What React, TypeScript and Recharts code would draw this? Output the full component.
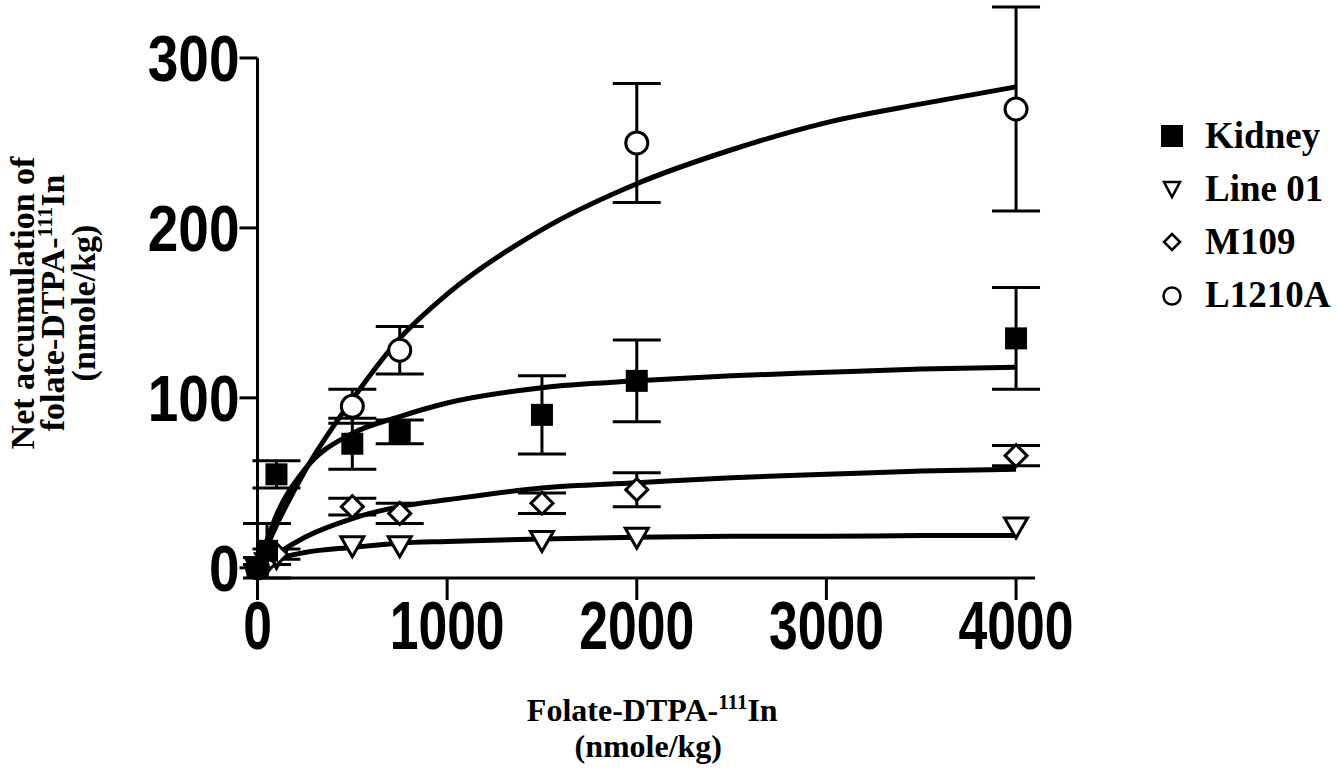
import {
  ComposedChart,
  Line,
  Scatter,
  XAxis,
  YAxis,
  ErrorBar,
  ReferenceLine,
} from 'recharts';

const SERIF = '"Liberation Serif", "Times New Roman", serif';
const SANS = '"Liberation Sans", Arial, sans-serif';

// axis ticks
const X_TICKS = [0, 1000, 2000, 3000, 4000];
const Y_TICKS = [0, 100, 200, 300];

// fitted saturation curves
const fitX = [0, 100, 250, 500, 750, 1000, 1500, 2000, 2500, 3000, 3500, 4000];
const kidneyFit = [0, 31, 58, 79, 89, 97, 106, 110, 113, 115, 117, 118];
const line01Fit = [0, 5, 9, 12, 14.5, 15.5, 17, 18, 18.5, 18.5, 19, 19];
const m109Fit = [0, 8, 18, 29, 36, 40, 47, 50, 53, 55, 57, 58];
const l1210aFit = [0, 25, 57, 99, 135, 161, 199, 226, 246, 262, 273, 283];

// measured points (mean +/- error)
const doseX = [0, 50, 100, 500, 750, 1500, 2000, 4000];
const kidneyMean = [0, 10, 55, 73, 80, 90, 110, 135];
const kidneyErr = [0, 16, 8, 15, 7, 23, 24, 30];
const line01Mean = [0, 3, 6, 13, 13, 16, 18, 24];
const m109Mean = [0, 4, 8, 36, 32, 38, 46, 66];
const m109Err = [0, 2, 3, 5, 6, 6, 10, 6];
const l1210aX = [0, 500, 750, 2000, 4000];
const l1210aMean = [0, 95, 128, 250, 270];
const l1210aErr = [0, 10, 14, 35, 60];

const toCurve = (ys: number[]) => fitX.map((x, i) => ({ x, y: ys[i] }));
const toPoints = (xs: number[], ys: number[], errs?: number[]) =>
  xs.map((x, i) => ({ x, y: ys[i], err: errs ? errs[i] : 0 }));

const kidneyPts = toPoints(doseX, kidneyMean, kidneyErr);
const line01Pts = toPoints(doseX, line01Mean);
const m109Pts = toPoints(doseX, m109Mean, m109Err);
const l1210aPts = toPoints(l1210aX, l1210aMean, l1210aErr);

const SquareDot = ({ cx, cy }: any) => (
  <rect x={cx - 11} y={cy - 11} width={22} height={22} fill="#000" />
);
const CircleDot = ({ cx, cy }: any) => (
  <circle cx={cx} cy={cy} r={11} fill="#fff" stroke="#000" strokeWidth={3} />
);
const DiamondDot = ({ cx, cy }: any) => (
  <polygon
    points={`${cx},${cy - 11} ${cx + 11},${cy} ${cx},${cy + 11} ${cx - 11},${cy}`}
    fill="#fff"
    stroke="#000"
    strokeWidth={3}
  />
);
const TriangleDot = ({ cx, cy }: any) => (
  <polygon
    points={`${cx - 11.5},${cy - 9} ${cx + 11.5},${cy - 9} ${cx},${cy + 11}`}
    fill="#fff"
    stroke="#000"
    strokeWidth={3}
  />
);

function YTick({ x, y, payload }: any) {
  return (
    <text
      transform={`translate(${x},${y}) scale(0.86,1)`}
      textAnchor="end"
      dy="0.36em"
      fontFamily={SANS}
      fontWeight="bold"
      fontSize={64}
      fill="#000"
    >
      {payload.value}
    </text>
  );
}

function XTick({ x, y, payload }: any) {
  return (
    <text
      transform={`translate(${x},${y}) scale(0.76,1)`}
      textAnchor="middle"
      dy="0.72em"
      fontFamily={SANS}
      fontWeight="bold"
      fontSize={68}
      fill="#000"
    >
      {payload.value}
    </text>
  );
}

function XTitle({ viewBox }: any) {
  const cx = viewBox.x + viewBox.width / 2 + 6;
  return (
    <text fontFamily={SERIF} fontWeight="bold" fontSize={32} fill="#000" textAnchor="middle">
      <tspan x={cx} y={721}>
        Folate-DTPA-
        <tspan fontSize={21} dy={-12}>111</tspan>
        <tspan dy={12}>In</tspan>
      </tspan>
      <tspan x={cx - 4} y={757}>(nmole/kg)</tspan>
    </text>
  );
}

function YTitle() {
  const cy = 303;
  return (
    <text
      fontFamily={SERIF}
      fontWeight="bold"
      fontSize={34}
      fill="#000"
      textAnchor="middle"
      transform="rotate(-90)"
    >
      <tspan x={-cy} y={34}>Net accumulation of</tspan>
      <tspan x={-cy} y={64}>
        folate-DTPA-
        <tspan fontSize={22} dy={-12}>111</tspan>
        <tspan dy={12}>In</tspan>
      </tspan>
      <tspan x={-cy} y={95}>(nmole/kg)</tspan>
    </text>
  );
}

const legendItems = [
  { name: 'Kidney', icon: <rect x={6} y={6} width={22} height={22} fill="#000" /> },
  {
    name: 'Line 01',
    icon: <polygon points="9,10 25,10 17,25" fill="#fff" stroke="#000" strokeWidth={2.5} />,
  },
  {
    name: 'M109',
    icon: <polygon points="17,9 25,17 17,25 9,17" fill="#fff" stroke="#000" strokeWidth={2.5} />,
  },
  { name: 'L1210A', icon: <circle cx={17} cy={18} r={8.5} fill="#fff" stroke="#000" strokeWidth={2.5} /> },
];

function LegendBox() {
  return (
    <div style={{ position: 'absolute', left: 1155, top: 109, width: 182 }}>
      {legendItems.map((item) => (
        <div key={item.name} style={{ display: 'flex', alignItems: 'center', height: 53 }}>
          <svg width={34} height={34}>{item.icon}</svg>
          <span
            style={{
              marginLeft: 16,
              fontFamily: SERIF,
              fontWeight: 'bold',
              fontSize: 37,
              color: '#000',
              lineHeight: '37px',
            }}
          >
            {item.name}
          </span>
        </div>
      ))}
    </div>
  );
}

export default function App() {
  return (
    <div style={{ position: 'absolute', left: 0, top: 0, width: 1337, height: 772, background: '#fff' }}>
      <ComposedChart width={1337} height={772} margin={{ top: 7, right: 302, bottom: 134, left: 157.5 }}>
        <XAxis
          type="number"
          dataKey="x"
          domain={[0, 4100]}
          ticks={X_TICKS}
          tickSize={22}
          tickMargin={0}
          height={60}
          axisLine={{ stroke: '#000', strokeWidth: 3 }}
          tickLine={{ stroke: '#000', strokeWidth: 3 }}
          tick={<XTick />}
          label={{ content: <XTitle /> }}
        />
        <YAxis
          type="number"
          domain={[0, 330]}
          ticks={Y_TICKS}
          tickSize={18}
          tickMargin={0}
          width={100}
          axisLine={false}
          tickLine={{ stroke: '#000', strokeWidth: 3 }}
          tick={<YTick />}
          label={{ content: <YTitle /> }}
        />
        <ReferenceLine
          segment={[
            { x: 0, y: 0 },
            { x: 0, y: 300 },
          ]}
          stroke="#000"
          strokeWidth={3}
          ifOverflow="visible"
        />
        <Line data={toCurve(l1210aFit)} dataKey="y" type="monotone" stroke="#000" strokeWidth={5} dot={false} isAnimationActive={false} />
        <Line data={toCurve(kidneyFit)} dataKey="y" type="monotone" stroke="#000" strokeWidth={5} dot={false} isAnimationActive={false} />
        <Line data={toCurve(m109Fit)} dataKey="y" type="monotone" stroke="#000" strokeWidth={5} dot={false} isAnimationActive={false} />
        <Line data={toCurve(line01Fit)} dataKey="y" type="monotone" stroke="#000" strokeWidth={5} dot={false} isAnimationActive={false} />
        <Scatter name="Line 01" data={line01Pts} dataKey="y" shape={<TriangleDot />} isAnimationActive={false} />
        <Scatter name="M109" data={m109Pts} dataKey="y" shape={<DiamondDot />} isAnimationActive={false}>
          <ErrorBar dataKey="err" direction="y" width={24} stroke="#000" strokeWidth={3} />
        </Scatter>
        <Scatter name="L1210A" data={l1210aPts} dataKey="y" shape={<CircleDot />} isAnimationActive={false}>
          <ErrorBar dataKey="err" direction="y" width={24} stroke="#000" strokeWidth={3} />
        </Scatter>
        <Scatter name="Kidney" data={kidneyPts} dataKey="y" shape={<SquareDot />} isAnimationActive={false}>
          <ErrorBar dataKey="err" direction="y" width={24} stroke="#000" strokeWidth={3} />
        </Scatter>
      </ComposedChart>
      <LegendBox />
    </div>
  );
}
